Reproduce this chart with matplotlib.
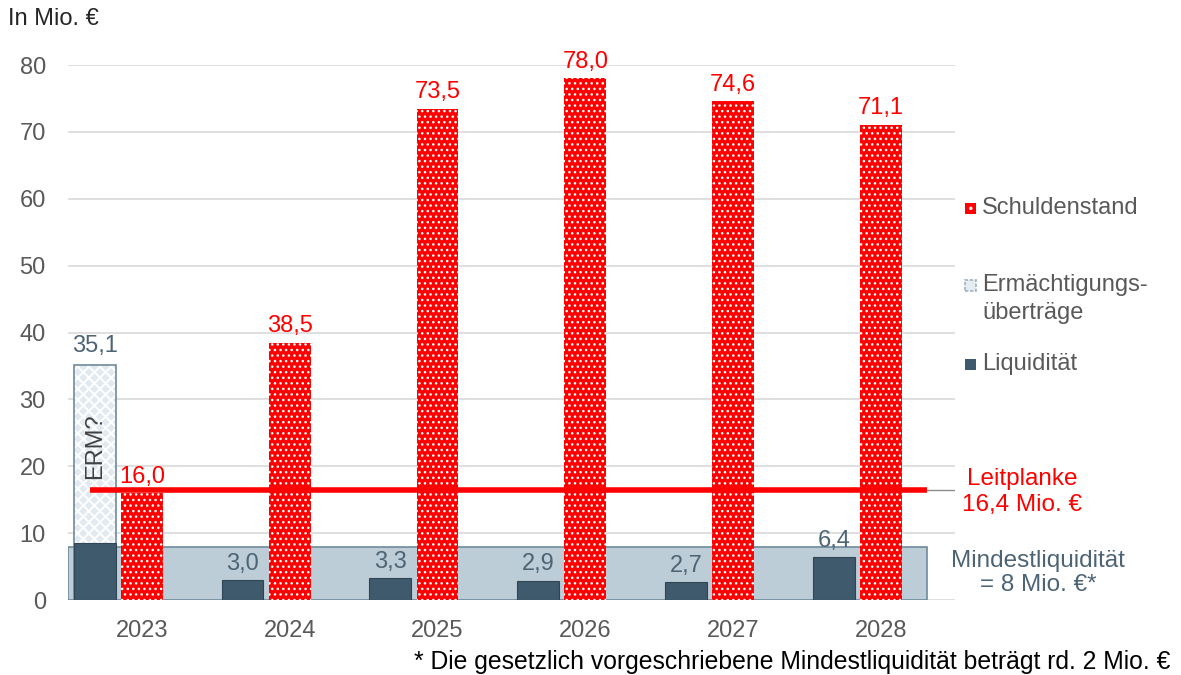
import matplotlib
matplotlib.use("Agg")
import matplotlib.pyplot as plt
from matplotlib.patches import Rectangle
import numpy as np

plt.rcParams['font.family'] = ['Liberation Sans', 'DejaVu Sans']

# data (Mio. EUR)
years = ["2023", "2024", "2025", "2026", "2027", "2028"]
schulden = [16.0, 38.5, 73.5, 78.0, 74.6, 71.1]
liquiditaet = [8.5, 3.0, 3.3, 2.9, 2.7, 6.4]
liq_labels = ["", "3,0", "3,3", "2,9", "2,7", "6,4"]
erm = [35.1]
leitplanke = 16.4
mindest = 8.0

RED = "#ff0000"
DARK = "#3f5a6c"
SLATE = "#4d6475"
BAND = "#bccdd7"
BAND_EDGE = "#6e8a9b"
GREY = "#595959"
FS = 17

fig = plt.figure(figsize=(11.81, 6.75), dpi=100)
ax = fig.add_axes([0.0576, 0.111, 0.751, 0.7926])

x = np.arange(len(years))
w = 0.283
off = -0.32

# Mindestliquiditaet band
ax.add_patch(Rectangle((-0.5, 0), 5.81, mindest, facecolor=BAND,
                       edgecolor=BAND_EDGE, linewidth=1.2, zorder=1))

# Ermaechtigungsuebertraege (2023 only)
with plt.rc_context({'hatch.linewidth': 1.4}):
    ax.bar(x[0] + off, erm[0], w, color="#e2eaf0", edgecolor="white",
           hatch="xxx", linewidth=0, zorder=2)
ax.bar(x[0] + off, erm[0], w, fill=False, edgecolor=BAND_EDGE,
       linewidth=1.2, zorder=3)
ax.text(x[0] + off, erm[0] + 1.3, "35,1", color=SLATE, fontsize=FS,
        ha="center", va="bottom")
ax.text(x[0] + off, 23, "ERM?", color="#404040", fontsize=FS,
        rotation=90, ha="center", va="center", zorder=6)

# Liquiditaet
ax.bar(x + off, liquiditaet, w, color=DARK, edgecolor="#2f4656",
       linewidth=0.8, zorder=4)
for xi, v, lab in zip(x, liquiditaet, liq_labels):
    if lab:
        ax.text(xi + off, v + 0.8, lab, color=SLATE, fontsize=FS,
                ha="center", va="bottom", zorder=6)

# Schuldenstand
with plt.rc_context({'hatch.linewidth': 1.0}):
    ax.bar(x, schulden, w, color=RED, edgecolor="white", hatch="...",
           linewidth=0, zorder=4)
for xi, v in zip(x, schulden):
    ax.text(xi, v + 0.8, f"{v:.1f}".replace(".", ","), color=RED,
            fontsize=FS, ha="center", va="bottom", zorder=6)

# Leitplanke
ax.plot([-0.35, 5.31], [leitplanke, leitplanke], color=RED, lw=4,
        solid_capstyle="butt", zorder=5)
ax.plot([5.31, 5.5], [leitplanke, leitplanke], color="#8c8c8c", lw=1,
        zorder=5)

ax.set_xlim(-0.5, 5.5)
ax.set_ylim(0, 80)
ax.set_yticks(np.arange(0, 81, 10))
ax.set_xticks(x)
ax.set_xticklabels(years)
ax.tick_params(axis="both", length=0, labelsize=FS, labelcolor=GREY)
ax.tick_params(axis="y", pad=16)
ax.tick_params(axis="x", pad=14)
ax.grid(axis="y", color="#d9d9d9", lw=1.2, zorder=0)
ax.set_axisbelow(True)
for s in ax.spines.values():
    s.set_visible(False)

fig.text(0.007, 0.988, "In Mio. €", fontsize=FS, color="#262626",
         ha="left", va="top")

# legend
def legend_box(ypix, fc, ec, hatch, lw=0, ls="-"):
    fig.patches.append(Rectangle((965 / 1181, 1 - (ypix + 6) / 675),
                                 11 / 1181, 11 / 675, facecolor=fc,
                                 edgecolor=ec, hatch=hatch, linewidth=lw,
                                 linestyle=ls, transform=fig.transFigure,
                                 figure=fig))

with plt.rc_context({'hatch.linewidth': 1.2}):
    legend_box(208, RED, "white", "..")
legend_box(285, "#e6edf2", "#9fb3c1", "", lw=1.2, ls=(0, (2, 1)))
legend_box(364, DARK, DARK, "")
fig.text(982 / 1181, 1 - 208 / 675, "Schuldenstand", fontsize=FS,
         color=GREY, va="center")
fig.text(982 / 1181, 1 - 299 / 675, "Ermächtigungs-\nüberträge",
         fontsize=FS, color=GREY, va="center", linespacing=1.3)
fig.text(982 / 1181, 1 - 364 / 675, "Liquidität", fontsize=FS,
         color=GREY, va="center")

# annotations right of the plot
fig.text(1022 / 1181, 1 - 492 / 675, "Leitplanke\n16,4 Mio. €",
         fontsize=17.5, color=RED, ha="center", va="center",
         linespacing=1.2)
fig.text(1038 / 1181, 1 - 573 / 675, "Mindestliquidität\n= 8 Mio. €*",
         fontsize=17.5, color=SLATE, ha="center", va="center",
         linespacing=1.1)

fig.text(1170 / 1181, 1 - 662 / 675,
         "* Die gesetzlich vorgeschriebene Mindestliquidität beträgt rd. 2 Mio. €",
         fontsize=17.8, color="black", ha="right", va="center")

fig.savefig("out.png", dpi=100)
